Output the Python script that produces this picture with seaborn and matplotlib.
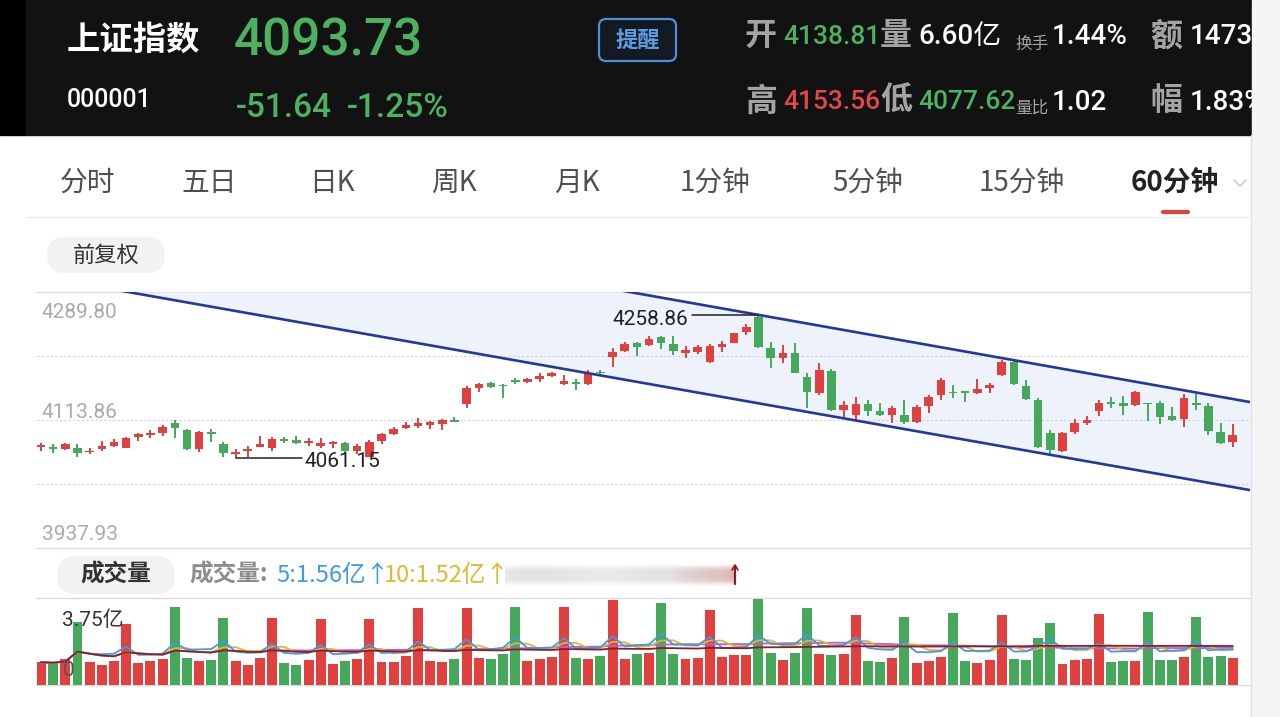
import numpy as np
import pandas as pd
import matplotlib.pyplot as plt
from matplotlib.patches import Rectangle, FancyBboxPatch
import seaborn as sns

# 上证指数 60分钟 K线
opens = [4076.3, 4076.3, 4073.6, 4075.0, 4069.5, 4073.6, 4078.1, 4075.8, 4090.9, 4093.2,
         4096.4, 4109.3, 4100.1, 4073.6, 4097.8, 4080.5, 4067.1, 4071.3, 4077.2, 4075.8,
         4087.7, 4086.4, 4082.7, 4078.1, 4081.3, 4081.8, 4071.3, 4063.4, 4085.0, 4095.0,
         4102.5, 4106.0, 4107.0, 4108.4, 4113.9, 4135.4, 4157.4, 4164.3, 4162.0, 4169.3,
         4166.5, 4170.2, 4174.8, 4162.9, 4165.1, 4162.9, 4180.3, 4200.9, 4208.7, 4220.1,
         4217.0, 4228.4, 4217.9, 4205.5, 4207.7, 4193.2, 4213.8, 4220.1, 4235.2, 4255.8,
         4213.5, 4199.5, 4205.5, 4173.4, 4151.4, 4181.6, 4127.6, 4120.7, 4135.4, 4126.2,
         4120.7, 4120.7, 4111.5, 4133.1, 4148.2, 4152.8, 4152.8, 4151.4, 4157.4, 4175.7,
         4192.9, 4161.0, 4141.4, 4095.6, 4071.7, 4097.0, 4109.3, 4126.2, 4138.2, 4136.8,
         4134.5, 4137.6, 4136.8, 4119.4, 4115.2, 4137.6, 4133.5, 4097.8, 4083.2]
highs = [4082.7, 4080.5, 4082.7, 4080.5, 4075.8, 4085.4, 4087.3, 4090.9, 4096.4, 4100.1,
         4107.0, 4113.9, 4101.5, 4099.2, 4101.5, 4083.2, 4074.0, 4078.1, 4091.9, 4090.1,
         4090.9, 4092.3, 4088.7, 4089.5, 4085.0, 4084.0, 4080.5, 4086.4, 4096.4, 4104.2,
         4111.5, 4117.0, 4112.5, 4114.8, 4118.4, 4161.0, 4164.3, 4166.5, 4162.9, 4172.0,
         4172.0, 4178.1, 4180.3, 4175.7, 4170.2, 4182.6, 4182.2, 4212.4, 4220.7, 4220.7,
         4229.7, 4229.7, 4229.7, 4216.0, 4217.0, 4217.9, 4222.4, 4233.9, 4245.4, 4258.86,
         4220.7, 4217.0, 4220.1, 4178.1, 4191.8, 4183.6, 4140.4, 4145.1, 4141.4, 4137.6,
         4133.1, 4141.4, 4134.5, 4148.2, 4171.2, 4162.0, 4154.1, 4169.8, 4165.1, 4196.3,
         4196.3, 4168.8, 4143.7, 4100.1, 4097.0, 4115.2, 4119.4, 4141.4, 4145.9, 4147.3,
         4153.7, 4137.6, 4140.0, 4132.1, 4149.2, 4149.2, 4136.8, 4109.3, 4108.0]
lows = [4070.8, 4068.1, 4072.6, 4062.6, 4067.1, 4071.7, 4076.3, 4075.0, 4085.4, 4089.5,
        4091.9, 4088.7, 4072.6, 4070.3, 4084.0, 4063.4, 4061.15, 4063.4, 4076.3, 4071.7,
        4081.8, 4080.5, 4078.1, 4075.8, 4075.0, 4066.7, 4066.7, 4062.5, 4080.5, 4093.2,
        4101.5, 4103.3, 4101.5, 4100.1, 4110.7, 4129.9, 4151.9, 4158.3, 4143.7, 4163.8,
        4164.3, 4165.7, 4173.4, 4162.0, 4155.1, 4162.0, 4174.8, 4186.3, 4206.9, 4202.2,
        4215.6, 4211.5, 4203.2, 4199.5, 4204.2, 4192.6, 4207.7, 4219.3, 4230.7, 4212.4,
        4184.7, 4192.6, 4178.1, 4129.9, 4148.2, 4126.6, 4117.6, 4113.9, 4119.4, 4119.4,
        4109.3, 4108.4, 4110.2, 4123.1, 4141.4, 4143.7, 4139.0, 4149.6, 4150.6, 4174.3,
        4162.0, 4141.4, 4075.0, 4066.7, 4069.5, 4094.2, 4107.0, 4119.4, 4130.8, 4120.7,
        4133.5, 4112.5, 4108.0, 4112.5, 4104.7, 4127.6, 4093.2, 4080.5, 4077.2]
closes = [4079.5, 4073.6, 4081.3, 4068.9, 4071.7, 4078.1, 4084.0, 4088.7, 4094.2, 4096.4,
          4104.7, 4103.3, 4074.0, 4097.8, 4094.6, 4068.9, 4069.5, 4073.6, 4080.5, 4087.3,
          4085.0, 4082.7, 4085.0, 4081.8, 4084.0, 4071.3, 4078.1, 4084.0, 4094.2, 4101.5,
          4107.0, 4110.2, 4111.5, 4113.9, 4111.5, 4157.4, 4162.9, 4159.6, 4160.2, 4165.7,
          4169.8, 4174.8, 4178.9, 4167.5, 4163.8, 4178.1, 4178.1, 4207.7, 4217.9, 4214.6,
          4225.2, 4219.3, 4208.7, 4210.1, 4214.6, 4216.0, 4217.9, 4233.0, 4242.1, 4213.8,
          4199.1, 4205.5, 4178.9, 4152.8, 4182.6, 4127.6, 4134.5, 4135.9, 4126.6, 4120.7,
          4129.9, 4111.5, 4132.1, 4145.9, 4168.8, 4150.6, 4151.4, 4156.1, 4162.0, 4194.0,
          4163.3, 4142.7, 4077.2, 4072.6, 4095.6, 4109.3, 4113.9, 4136.8, 4135.9, 4133.1,
          4151.9, 4135.9, 4118.4, 4113.9, 4144.5, 4134.5, 4098.7, 4081.8, 4093.73]
# 成交量, 亿
volumes = [0.98, 0.94, 1.11, 2.73, 0.99, 0.87, 1.05, 2.63, 0.96, 1.02,
           1.12, 3.35, 1.16, 1.03, 1.08, 2.89, 1.05, 0.87, 1.15, 2.90,
           0.94, 0.87, 1.08, 2.86, 0.89, 1.05, 1.13, 2.83, 0.99, 1.00,
           1.24, 3.31, 1.05, 1.00, 1.13, 3.31, 1.16, 1.12, 1.32, 3.35,
           1.05, 1.12, 1.22, 3.35, 1.15, 1.11, 1.26, 3.66, 1.13, 1.35,
           1.37, 3.55, 1.32, 1.11, 1.18, 3.23, 1.21, 1.28, 1.28, 3.71,
           1.39, 1.09, 1.37, 3.33, 1.32, 1.28, 1.34, 3.03, 1.05, 0.98,
           1.18, 2.92, 0.96, 1.02, 1.22, 3.12, 1.02, 0.96, 1.08, 3.03,
           1.12, 1.06, 2.01, 2.69, 0.92, 1.08, 1.13, 3.07, 0.98, 1.02,
           1.05, 3.15, 1.08, 1.08, 1.19, 2.94, 1.19, 1.25, 1.15]

price_ticks = ['4289.80', '4113.86', '3937.93']
vol_top = 3.75

# hand-drawn channel: (candle index, price) end points
chan_lower = [(7.15, 4289.8), (99.4, 4017.6)]
chan_upper = [(48.4, 4289.8), (99.4, 4138.6)]

tabs = ['分时', '五日', '日K', '周K', '月K', '1分钟', '5分钟', '15分钟', '60分钟']
tab_x = [88, 209, 332, 454, 577, 715, 868, 1022, 1175]

RED = '#e0413f'
GREEN = '#46a85b'
H_GREEN = '#4cb160'
H_RED = '#e2484a'
H_GRAY = '#a3a3a3'
CHAN = '#24389c'

sns.set_theme(style='white')
plt.rcParams['font.family'] = ['Noto Sans CJK SC', 'DejaVu Sans']
NUM = ['Roboto', 'Noto Sans CJK SC', 'DejaVu Sans']

W, H = 1280, 717
fig = plt.figure(figsize=(W / 100, H / 100), dpi=100)
fig.patch.set_facecolor('white')


def box(x0, y0, x1, y1):
    return [x0 / W, 1 - y1 / H, (x1 - x0) / W, (y1 - y0) / H]


def px_axes(z):
    a = fig.add_axes([0, 0, 1, 1], zorder=z)
    a.set_xlim(0, W)
    a.set_ylim(H, 0)
    a.axis('off')
    a.set_autoscale_on(False)
    return a


bg = px_axes(0)
ov = px_axes(3)

# backgrounds
bg.add_patch(Rectangle((0, 0), 26, 135, color='black'))
bg.add_patch(Rectangle((26, 0), 1226, 135, color='#121212'))
bg.add_patch(Rectangle((1252, 0), 28, H, color='#f5f5f5'))
bg.plot([1251, 1251], [135, H], color='#e2e2e2', lw=1)
bg.plot([26, 1251], [217, 217], color='#efefef', lw=1)
for y in [292, 548, 598, 685]:
    bg.plot([36, 1250], [y, y], color='#dddddd', lw=1)

# header
header_clip = Rectangle((26, 0), 1226, 135, transform=ov.transData)
ov.text(67, 40, '上证指数', fontsize=24, weight='bold', color='white', va='center')
ov.text(234, 42, '4093.73', fontsize=37, color=H_GREEN, family=NUM, weight='medium', va='center')
ov.text(67, 100, '000001', fontsize=18, color='white', family=NUM, weight='medium', va='center')
ov.text(236, 108, '-51.64', fontsize=24, color=H_GREEN, family=NUM, weight='medium', va='center')
ov.text(347, 108, '-1.25%', fontsize=24, color=H_GREEN, family=NUM, weight='medium', va='center')
ov.add_patch(FancyBboxPatch((599, 19), 77, 42, boxstyle='round,pad=0,rounding_size=7',
                            fc='#141a22', ec='#4f8fd6', lw=1.6))
ov.text(637.5, 40, '提醒', fontsize=16, color='#5b9de3', ha='center', va='center', weight='bold')

# the last column is cut by the screen edge in the screenshot
stats = [
    (745, 36, '开', 23, H_GRAY, 'bold'), (783, 37, '4138.81', 19, H_GREEN, 'medium'),
    (880, 36, '量', 23, H_GRAY, 'bold'), (918, 37, '6.60亿', 20, 'white', 'medium'),
    (1015, 44, '换手', 12, H_GRAY, 'normal'), (1052, 37, '1.44%', 20, 'white', 'medium'),
    (1150, 36, '额', 23, H_GRAY, 'bold'), (1190, 37, '14734', 20, 'white', 'medium'),
    (745, 101, '高', 23, H_GRAY, 'bold'), (783, 102, '4153.56', 19, H_RED, 'medium'),
    (880, 101, '低', 23, H_GRAY, 'bold'), (918, 102, '4077.62', 19, H_GREEN, 'medium'),
    (1015, 108, '量比', 12, H_GRAY, 'normal'), (1052, 102, '1.02', 20, 'white', 'medium'),
    (1150, 101, '幅', 23, H_GRAY, 'bold'), (1190, 102, '1.83%', 20, 'white', 'medium'),
]
for x, y, s, fs, c, w in stats:
    t = ov.text(x, y, s, fontsize=fs, color=c, weight=w, family=NUM, va='center', clip_on=True)
    t.set_clip_path(header_clip)

# tab bar
for x, s in zip(tab_x, tabs):
    sel = s == '60分钟'
    ov.text(x, 183, s, fontsize=20, ha='center', va='center',
            color='#222222' if sel else '#505050', weight='bold' if sel else 'medium')
ov.plot([1163, 1188], [212, 212], color=RED, lw=3, solid_capstyle='round')
ov.plot([1234, 1240, 1246], [180, 186, 180], color='#cccccc', lw=1.2)

ov.add_patch(FancyBboxPatch((47, 237), 118, 36, boxstyle='round,pad=0,rounding_size=18',
                            fc='#f1f2f4', ec='none'))
ov.text(106, 255, '前复权', fontsize=16, color='#333333', ha='center', va='center', weight='medium')

# data frame
df = pd.DataFrame({'open': opens, 'high': highs, 'low': lows, 'close': closes, 'vol': volumes})
df['i'] = np.arange(len(df))
df['dir'] = np.where(df['close'] >= df['open'], 'up', 'down')
colors = df['dir'].map({'up': RED, 'down': GREEN}).tolist()

xl = (-0.33, 99.42)
ymin, ymax = float(price_ticks[2]), float(price_ticks[0])

# price panel
axp = fig.add_axes(box(37, 292, 1250, 548), zorder=1)
axp.patch.set_alpha(0)

xs = np.linspace(-1, 100.5, 400)


def chan(pts, x):
    (x0, y0), (x1, y1) = pts
    return y0 + (y1 - y0) * (x - x0) / (x1 - x0)


lo_line = chan(chan_lower, xs)
up_line = chan(chan_upper, xs)
up_clip = np.minimum(up_line, ymax)
axp.fill_between(xs, lo_line, up_clip, where=up_clip > lo_line, interpolate=True,
                 color='#edf2fb', lw=0, zorder=1)
for lv in np.linspace(ymin, ymax, 5)[1:-1]:
    axp.axhline(lv, color='#d2d2d2', lw=0.8, ls=(0, (2, 2)), zorder=2)

mid = (df['open'] + df['close']) / 2
body = np.maximum((df['close'] - df['open']).abs(), 2.2)
axp.vlines(df['i'], df['low'], df['high'], colors=colors, lw=1.4, zorder=3)
axp.bar(df['i'], body, bottom=mid - body / 2, width=0.7, color=colors, lw=0, zorder=4)

axp.plot(xs, lo_line, color=CHAN, lw=1.9, zorder=5)
axp.plot(xs, up_line, color=CHAN, lw=1.9, zorder=5)

imax = int(df['high'].idxmax())
hi = df['high'][imax]
axp.plot([imax - 5.45, imax], [hi, hi], color='#222222', lw=1.1, zorder=6)
axp.annotate(f'{hi:.2f}', xy=(imax - 5.75, hi), xytext=(0, -3.3), textcoords='offset points',
             ha='right', va='center', fontsize=15, color='#222222', family=NUM, zorder=6)
imin = int(df['low'].idxmin())
lo = df['low'][imin]
axp.plot([imin, imin + 5.5], [lo, lo], color='#222222', lw=1.1, zorder=6)
axp.annotate(f'{lo:.2f}', xy=(imin + 5.65, lo), xytext=(0, -2.2), textcoords='offset points',
             ha='left', va='center', fontsize=15, color='#222222', family=NUM, zorder=6)

for lbl, dy in zip(price_ticks, [-20, 8, 14]):
    axp.annotate(lbl, xy=(0.004, float(lbl)), xycoords=axp.get_yaxis_transform(),
                 xytext=(0, dy * 0.72), textcoords='offset points', va='center',
                 fontsize=15, color='#aaaaaa', family=NUM)

axp.set_xlim(*xl)
axp.set_ylim(ymin, ymax)
axp.axis('off')

# volume header
ov.add_patch(FancyBboxPatch((57, 556), 118, 38, boxstyle='round,pad=0,rounding_size=19',
                            fc='#f1f2f4', ec='none'))
ov.text(116, 575, '成交量', fontsize=17, color='#333333', ha='center', va='center', weight='bold')
ov.text(189, 575, '成交量:', fontsize=17, color='#8d8d8d', va='center', weight='bold')
ov.text(276, 575, '5:1.56亿↑', fontsize=17, color='#3d9be9', va='center')
ov.text(384, 575, '10:1.52亿↑', fontsize=17, color='#e5b52a', va='center')

gx = np.linspace(0, 1, 240)
gy = np.linspace(-1, 1, 30)
blur = np.zeros((30, 240, 4))
red_mix = np.clip((gx - 0.72) / 0.28, 0, 1)
blur[..., 0] = 0.87 - 0.07 * red_mix
blur[..., 1] = 0.87 - 0.30 * red_mix
blur[..., 2] = 0.87 - 0.30 * red_mix
blur[..., 3] = np.exp(-(gy[:, None] / 0.75) ** 4) * (0.75 + 0.1 * np.sin(gx * 11))[None, :]
ov.imshow(blur, extent=[505, 734, 587, 563], aspect='auto', interpolation='bilinear', zorder=1)
ov.plot([735, 735], [566, 584], color='#8e1b1b', lw=1.6)
ov.plot([732, 735, 738], [570, 565, 570], color='#8e1b1b', lw=1.2)

# volume panel
axv = fig.add_axes(box(37, 598, 1250, 685), zorder=1)
axv.patch.set_alpha(0)
sns.barplot(data=df, x='i', y='vol', hue='dir', palette={'up': RED, 'down': GREEN},
            native_scale=True, dodge=False, width=0.82, saturation=1, errorbar=None,
            legend=False, ax=axv, zorder=2, linewidth=0)
ma_colors = {20: '#b65fd8', 10: '#e5b52a', 5: '#3d9be9', 60: '#8b1f24'}
for n, c in ma_colors.items():
    df[f'ma{n}'] = df['vol'].rolling(n, min_periods=1).mean()
    sns.lineplot(data=df, x='i', y=f'ma{n}', color=c, lw=1.3, ax=axv, zorder=3)
axv.set_xlim(*xl)
axv.set_ylim(0, vol_top)
axv.axis('off')

ov.text(62, 620, f'{vol_top:.2f}亿', fontsize=15, color='#333333', va='center', family=NUM)
ov.text(63, 670, '0', fontsize=15, color='#555555', va='center', family=NUM)

ov.set_xlim(0, W)
ov.set_ylim(H, 0)

fig.savefig('out.png', dpi=100)
